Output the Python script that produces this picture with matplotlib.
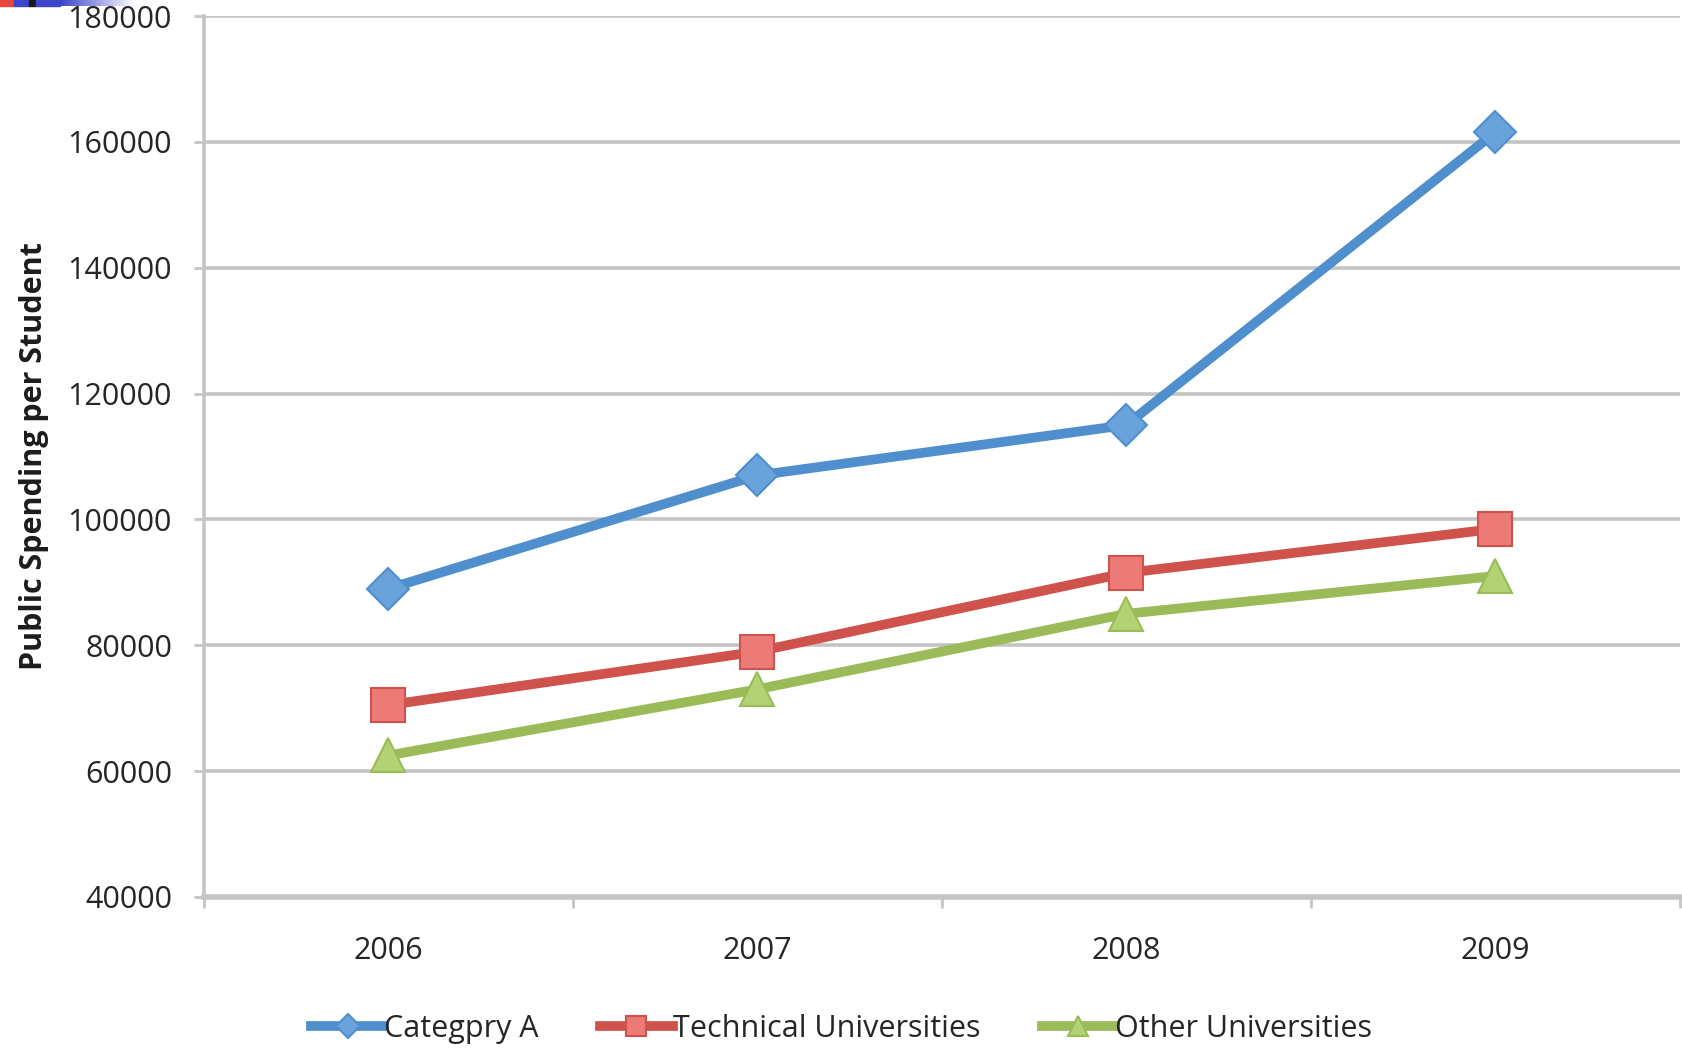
import numpy as np
import matplotlib.pyplot as plt
from matplotlib.patches import Rectangle
from matplotlib.colors import LinearSegmentedColormap

years = ["2006", "2007", "2008", "2009"]
category_a = [89000, 107000, 115000, 161500]
technical = [70500, 79000, 91500, 98500]
other = [62500, 73000, 85000, 91000]

series_names = ["Categpry A", "Technical Universities", "Other Universities"]

plt.rcParams['font.family'] = ['Open Sans', 'DejaVu Sans']

fig = plt.figure(figsize=(16.83, 10.48), dpi=100)
ax = fig.add_axes([0.1212, 0.1441, 0.8768, 0.8406])

x = np.arange(len(years))
grid_c = "#c4c4c4"
text_c = "#262626"

ax.plot(x, category_a, color="#4f8fcd", lw=7, marker="D", ms=21,
        mfc="#6aa3dc", mec="#4f8fcd", mew=1.5, label=series_names[0], zorder=5)
ax.plot(x, technical, color="#cf524d", lw=7, marker="s", ms=24,
        mfc="#ec7a76", mec="#cf524d", mew=1.5, label=series_names[1], zorder=4)
ax.plot(x, other, color="#9bbb59", lw=7, marker="^", ms=24,
        mfc="#b2d273", mec="#9bbb59", mew=1.5, label=series_names[2], zorder=3)

ax.set_xlim(-0.5, len(years) - 0.5)
ax.set_ylim(40000, 180000)
ax.set_yticks(np.arange(40000, 180001, 20000))
ax.set_xticks(x)
ax.set_xticklabels(years)
ax.set_xticks(np.arange(-0.5, len(years)), minor=True)

ax.yaxis.grid(True, color=grid_c, lw=2.6)
ax.set_axisbelow(True)
for side in ["top", "right"]:
    ax.spines[side].set_visible(False)
ax.spines["left"].set_color(grid_c)
ax.spines["left"].set_linewidth(2.6)
ax.spines["bottom"].set_color(grid_c)
ax.spines["bottom"].set_linewidth(4)

ax.tick_params(axis="y", length=7, width=2, color=grid_c, pad=16,
               labelsize=22, labelcolor=text_c)
ax.tick_params(axis="x", which="major", length=0, pad=28,
               labelsize=22, labelcolor=text_c)
ax.tick_params(axis="x", which="minor", length=8, width=2, color=grid_c)

ax.set_ylabel("Public Spending per Student", fontsize=22, fontweight="bold",
              color="#1c1c1c")
ax.yaxis.set_label_coords(-0.105, 0.5)

leg = fig.legend(loc="center", bbox_to_anchor=(0.5, 0.018), ncol=3, frameon=False,
                 handlelength=2.4, handletextpad=0.0, columnspacing=2.0,
                 prop={"size": 22}, markerscale=0.6)
for t in leg.get_texts():
    t.set_color(text_c)

# small colour strip in the top-left corner
strip = [(0, 14, "#e8453c"), (14, 29, "#3b46c8"), (29, 36, "#1a1a1a"), (36, 60, "#3b46c8")]
for x0, x1, c in strip:
    fig.patches.append(Rectangle((x0 / 1683, 1 - 6 / 1048), (x1 - x0) / 1683, 6 / 1048,
                                 transform=fig.transFigure, color=c, zorder=10))
grad = np.linspace(0, 1, 80)[None, :]
gax = fig.add_axes([60 / 1683, 1 - 6 / 1048, 76 / 1683, 6 / 1048])
gax.imshow(grad, aspect="auto",
           cmap=LinearSegmentedColormap.from_list("strip", ["#3b46c8", "#ffffff"]))
gax.axis("off")

fig.savefig("out.png", dpi=100)
